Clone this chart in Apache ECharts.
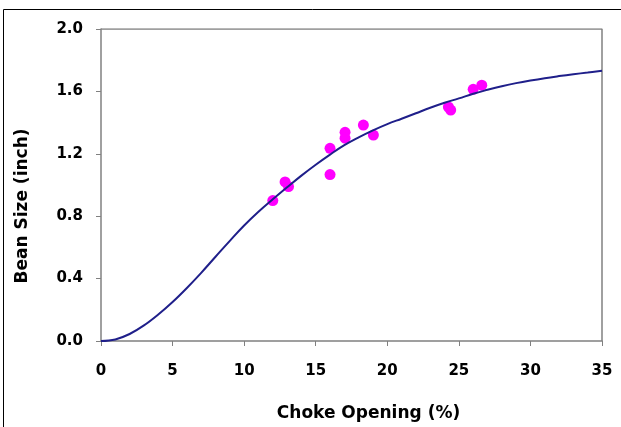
<!DOCTYPE html>
<html>
<head>
<meta charset="utf-8">
<script src="https://cdn.jsdelivr.net/npm/echarts@6/dist/echarts.min.js"></script>
<style>
  html, body { margin: 0; padding: 0; background: #fff; }
  #chart { width: 621px; height: 427px; }
</style>
</head>
<body>
<div id="chart"></div>
<script>
// measured points: choke opening (%), bean size (inch)
const pointX = [12.0, 12.86, 13.1, 16.0, 16.0, 17.05, 17.05, 18.33, 19.03, 24.27, 24.43, 26.0, 26.6]
const pointY = [0.90, 1.02, 0.99, 1.067, 1.235, 1.338, 1.30, 1.384, 1.32, 1.50, 1.48, 1.613, 1.64]

// fitted curve
const curveX = [0, 1, 2, 3, 4, 5, 6, 7, 8, 9, 10, 11, 12, 13, 14, 15, 16, 17, 18,
  19, 20, 21, 22, 23, 24, 25, 26, 27, 28, 29, 30, 31, 32, 33, 34, 35]
const curveY = [0, 0.01, 0.045, 0.10, 0.17, 0.25, 0.34, 0.437, 0.54, 0.642, 0.74, 0.828,
  0.908, 0.985, 1.06, 1.13, 1.195, 1.255, 1.305, 1.35, 1.39, 1.425, 1.46, 1.495, 1.527,
  1.555, 1.585, 1.61, 1.633, 1.653, 1.67, 1.685, 1.698, 1.71, 1.721, 1.733]

const chart = echarts.init(document.getElementById('chart'))

const tickFont = {
  fontFamily: 'DejaVu Sans',
  fontWeight: 'bold',
  fontSize: 15,
  color: '#000'
}
const titleFont = {
  fontFamily: 'DejaVu Sans',
  fontWeight: 'bold',
  fontSize: 17,
  color: '#000'
}

chart.setOption({
  animation: false,
  grid: { left: 101, right: 19, top: 29, bottom: 83 },
  graphic: [
    {
      // outer frame of the picture
      type: 'polyline',
      shape: { points: [[3.5, 430], [3.5, 9.5], [621, 9.5]] },
      style: { stroke: '#000', lineWidth: 1, fill: null }
    }
  ],
  xAxis: {
    type: 'value',
    min: 0,
    max: 35,
    interval: 5,
    name: 'Choke Opening (%)',
    nameLocation: 'middle',
    nameGap: 64,
    nameTextStyle: Object.assign({ padding: [0, 0, 0, 34] }, titleFont),
    axisLine: { show: true, lineStyle: { color: '#808080', width: 1.5 } },
    axisTick: { show: true, length: 5, lineStyle: { color: '#808080' } },
    axisLabel: Object.assign({ margin: 23 }, tickFont),
    splitLine: { show: false }
  },
  yAxis: {
    type: 'value',
    min: 0,
    max: 2,
    interval: 0.4,
    name: 'Bean Size (inch)',
    nameLocation: 'middle',
    nameGap: 70,
    nameTextStyle: Object.assign({ padding: [0, 42, 0, 0] }, titleFont),
    axisLine: { show: true, lineStyle: { color: '#808080', width: 1.5 } },
    axisTick: { show: true, length: 5, lineStyle: { color: '#808080' } },
    axisLabel: Object.assign({ margin: 18, formatter: v => v.toFixed(1) }, tickFont),
    splitLine: { show: false }
  },
  series: [
    {
      type: 'line',
      data: curveX.map((x, i) => [x, curveY[i]]),
      smooth: 0.4,
      symbol: 'none',
      lineStyle: { color: '#1f1f8a', width: 2 },
      z: 3
    },
    {
      type: 'scatter',
      data: pointX.map((x, i) => [x, pointY[i]]),
      symbolSize: 11,
      itemStyle: { color: '#ff00ff', opacity: 1 },
      z: 2
    },
    {
      // frame on top and right of the plot
      type: 'line',
      data: [[0, 2], [35, 2], [35, 0]],
      symbol: 'none',
      lineStyle: { color: '#808080', width: 1.5 },
      silent: true,
      z: 1
    }
  ]
})
</script>
</body>
</html>
